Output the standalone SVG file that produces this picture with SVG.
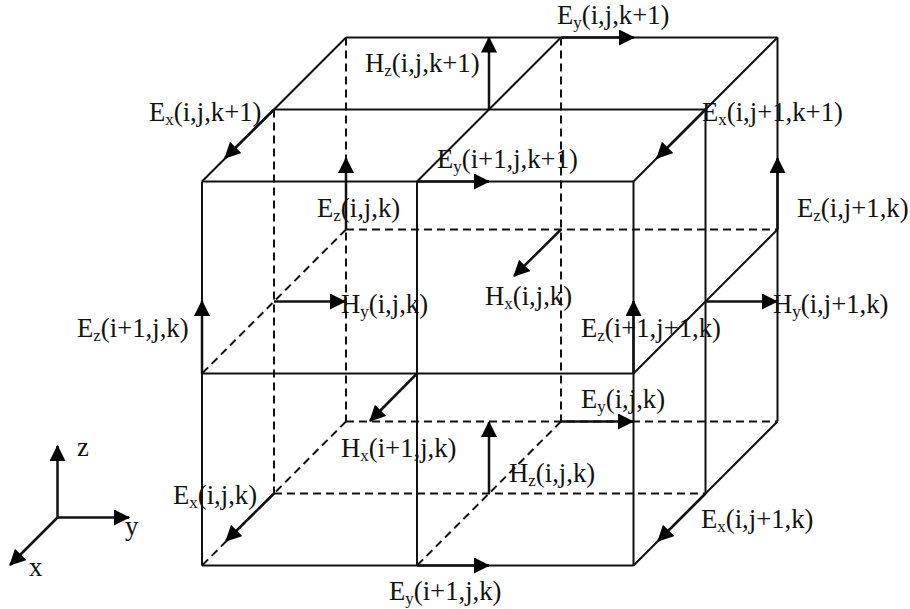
<svg xmlns="http://www.w3.org/2000/svg" width="910" height="609" viewBox="0 0 910 609">
<style>
.s{fill:none;stroke:#111;stroke-width:2}
.d{fill:none;stroke:#111;stroke-width:2;stroke-dasharray:8 5}
.a{fill:none;stroke:#111;stroke-width:2.500;marker-end:url(#h)}
.t{font-family:"Liberation Serif","Times New Roman",serif;font-size:26.700px;fill:#111;stroke:none}
.b{font-size:17px}
</style>
<defs>
<marker id="h" markerUnits="userSpaceOnUse" markerWidth="17" markerHeight="16" refX="15" refY="8" orient="auto" viewBox="0 0 17 16"><path d="M0 0L16 8L0 16Z" fill="#000"/></marker>
</defs>
<rect width="910" height="609" fill="#fff"/>
<g id="connectors">
<g id="solid-edges">
<path class="s" d="M202 181.500H633.500M202 373.500H633.500M202 565.500H633.500M202 181.500V565.500M417 181.500V565.500M633.500 181.500V565.500"/>
<path class="s" d="M346 37.500H777.500M274 109.500H705.500M705.500 109.500V493.500M777.500 37.500V421.500"/>
<path class="s" d="M346 37.500L202 181.500M561 37.500L417 181.500M777.500 37.500L633.500 181.500M777.500 229.500L633.500 373.500M777.500 421.500L633.500 565.500"/>
</g>
<g id="dashed-edges">
<path class="d" d="M346 37.500V421.500M561 37.500V421.500M274 109.500V493.500"/>
<path class="d" d="M346 229.500H777.500M346 421.500H777.500M274 493.500H705.500"/>
<path class="d" d="M346 229.500L202 373.500M346 421.500L202 565.500M561 421.500L417 565.500"/>
</g>
<g id="arrows">
<path class="a" d="M274 109.500L225 158"/>
<path class="a" d="M705.500 109.500L657 158"/>
<path class="a" d="M274 493.500L226 541"/>
<path class="a" d="M705.500 493.500L658 541"/>
<path class="a" d="M417 373.500L370 421"/>
<path class="a" d="M561 229.500L514 276"/>
<path class="a" d="M561 37.500H634"/>
<path class="a" d="M417 181.500H489"/>
<path class="a" d="M561 421.500H633"/>
<path class="a" d="M417 565.500H489"/>
<path class="a" d="M274 301.500H345"/>
<path class="a" d="M705.500 301.500H777"/>
<path class="a" d="M489 109.500V37.500"/>
<path class="a" d="M489 493.500V422"/>
<path class="a" d="M346 229.500V158"/>
<path class="a" d="M777.500 229.500V158"/>
<path class="a" d="M202 373.500V301"/>
<path class="a" d="M633.500 373.500V301"/>
<path class="a" d="M57.500 517.500V446"/>
<path class="a" d="M57.500 517.500H129"/>
<path class="a" d="M57.500 517.500L10 565"/>
</g>
</g>
<g id="labels" class="t">
<text id="label-ey-ijk1" x="557" y="24">E<tspan class="b" dy="4">y</tspan><tspan dy="-4">(i,j,k+1)</tspan></text>
<text id="label-hz-ijk1" x="365" y="72">H<tspan class="b" dy="4">z</tspan><tspan dy="-4">(i,j,k+1)</tspan></text>
<text id="label-ex-ijk1" x="149" y="121">E<tspan class="b" dy="4">x</tspan><tspan dy="-4">(i,j,k+1)</tspan></text>
<text id="label-ex-ij1k1" x="702" y="121">E<tspan class="b" dy="4">x</tspan><tspan dy="-4">(i,j+1,k+1)</tspan></text>
<text id="label-ey-i1jk1" x="437" y="168">E<tspan class="b" dy="4">y</tspan><tspan dy="-4">(i+1,j,k+1)</tspan></text>
<text id="label-ez-ij1k" x="797" y="217">E<tspan class="b" dy="4">z</tspan><tspan dy="-4">(i,j+1,k)</tspan></text>
<text id="label-ez-ijk" x="317" y="217">E<tspan class="b" dy="4">z</tspan><tspan dy="-4">(i,j,k)</tspan></text>
<text id="label-hx-ijk" x="485" y="305">H<tspan class="b" dy="4">x</tspan><tspan dy="-4">(i,j,k)</tspan></text>
<text id="label-hy-ijk" x="341" y="313">H<tspan class="b" dy="4">y</tspan><tspan dy="-4">(i,j,k)</tspan></text>
<text id="label-hy-ij1k" x="773" y="313">H<tspan class="b" dy="4">y</tspan><tspan dy="-4">(i,j+1,k)</tspan></text>
<text id="label-ez-i1jk" x="77" y="337">E<tspan class="b" dy="4">z</tspan><tspan dy="-4">(i+1,j,k)</tspan></text>
<text id="label-ez-i1j1k" x="581" y="337">E<tspan class="b" dy="4">z</tspan><tspan dy="-4">(i+1,j+1,k)</tspan></text>
<text id="label-ey-ijk" x="581" y="408">E<tspan class="b" dy="4">y</tspan><tspan dy="-4">(i,j,k)</tspan></text>
<text id="label-hx-i1jk" x="341" y="457">H<tspan class="b" dy="4">x</tspan><tspan dy="-4">(i+1,j,k)</tspan></text>
<text id="label-hz-ijk" x="509" y="482">H<tspan class="b" dy="4">z</tspan><tspan dy="-4">(i,j,k)</tspan></text>
<text id="label-ex-ijk" x="173" y="504">E<tspan class="b" dy="4">x</tspan><tspan dy="-4">(i,j,k)</tspan></text>
<text id="label-ex-ij1k" x="701" y="528">E<tspan class="b" dy="4">x</tspan><tspan dy="-4">(i,j+1,k)</tspan></text>
<text id="label-ey-i1jk" x="389" y="600">E<tspan class="b" dy="4">y</tspan><tspan dy="-4">(i+1,j,k)</tspan></text>
<text id="label-z" x="77" y="456">z</text>
<text id="label-y" x="125" y="535">y</text>
<text id="label-x" x="29" y="576">x</text>
</g>
</svg>
